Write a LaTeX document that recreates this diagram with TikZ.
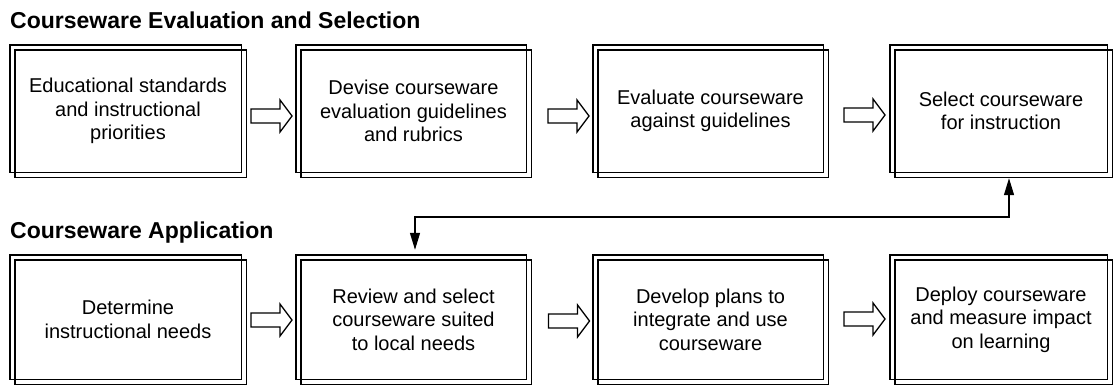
\documentclass[tikz,border=0pt]{standalone}
\usepackage{fontspec}
\setmainfont{Liberation Sans}
\usetikzlibrary{calc,arrows.meta}
\tikzset{
  boxarea/.style={minimum width=#1, minimum height=132pt, inner sep=0pt, align=center,
    font=\fontsize{20}{23.5}\selectfont},
  lowbox/.style={minimum height=129pt},
  frameline/.style={line width=1.4pt},
  heading/.style={anchor=base west, inner sep=0pt, font=\fontsize{23}{26}\selectfont\bfseries},
  arrowline/.style={line width=1.3pt, line join=miter},
  conn/.style={line width=1.3pt, {Triangle[length=17pt,width=10pt]}-{Triangle[length=17pt,width=10pt]}},
  blockarr/.pic={\draw[arrowline] (-20.5,-7) -- (8.5,-7) -- (8.5,-16) -- (20.5,0) -- (8.5,16) -- (8.5,7) -- (-20.5,7) -- cycle;}
}
\begin{document}
\begin{tikzpicture}[x=1pt,y=-1pt]
\useasboundingbox (0,0) rectangle (1116,386);
\node[heading] (h1) at (10,28) {Courseware Evaluation and Selection};
\node[heading] (h2) at (10,238) {Courseware Application};
% top row
\node[boxarea=236pt] (b1) at (128,111) {Educational standards\\and instructional\\priorities};
\node[boxarea=235pt] (b2) at (413.5,111) {Devise courseware\\evaluation guidelines\\and rubrics};
\node[boxarea=235pt] (b3) at (710.5,111) {Evaluate courseware\\against guidelines};
\node[boxarea=222pt] (b4) at (1001,111) {Select courseware\\for instruction};
% bottom row
\node[boxarea=236pt,lowbox] (b5) at (128,319.5) {Determine\\instructional needs};
\node[boxarea=235pt,lowbox] (b6) at (413.5,319.5) {Review and select\\courseware suited\\to local needs};
\node[boxarea=235pt,lowbox] (b7) at (710.5,319.5) {Develop plans to\\integrate and use\\courseware};
\node[boxarea=222pt,lowbox] (b8) at (1001,319.5) {Deploy courseware\\and measure impact\\on learning};
% double frames
\foreach \n in {b1,b2,b3,b4,b5,b6,b7,b8}{
  \draw[frameline] (\n.north west) rectangle ($(\n.south east)+(-5,-5)$);
  \draw[frameline] ($(\n.north west)+(5,5)$) rectangle (\n.south east);
}
% block arrows
\pic at (271.5,116) {blockarr};
\pic at (568.5,116) {blockarr};
\pic at (864.5,115) {blockarr};
\pic at (271.5,320) {blockarr};
\pic at (569,321) {blockarr};
\pic at (864.5,319) {blockarr};
% feedback connector
\coordinate (fb) at (1009,217);
\coordinate (fa) at (415,217);
\draw[conn] ($(b4.south -| fb)+(0,1)$) -- (fb) -- (fa) -- ($(b6.north -| fa)+(0,-5)$);
\end{tikzpicture}
\end{document}
